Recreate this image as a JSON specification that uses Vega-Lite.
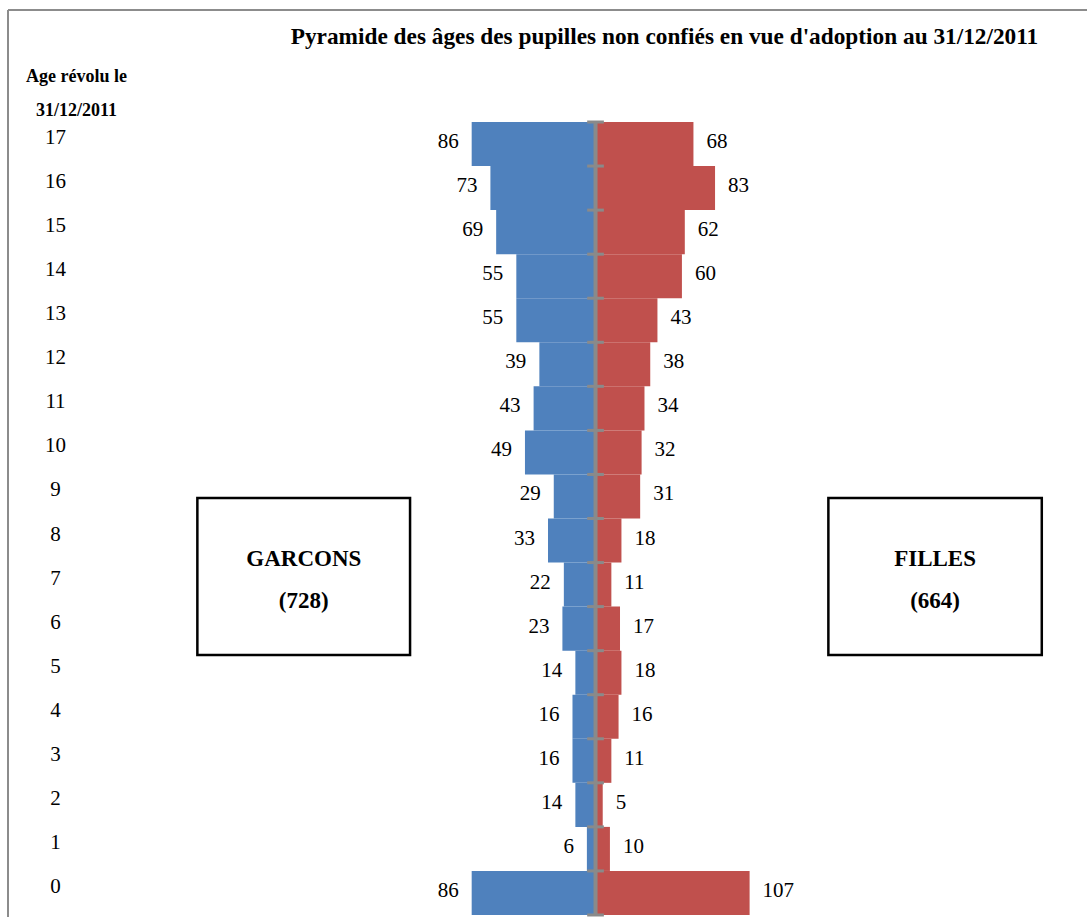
{
  "$schema": "https://vega.github.io/schema/vega-lite/v6.json",
  "autosize": {"type": "none"},
  "padding": {"left": 8, "top": 10, "right": 0, "bottom": 0},
  "width": 1079,
  "height": 907,
  "background": "white",
  "config": {
    "view": {"stroke": "#8c8c8c", "strokeWidth": 2, "strokeDash": [1079, 1986, 907, 0]},
    "font": "Liberation Serif"
  },
  "title": {
    "text": "Pyramide des âges des pupilles non confiés en vue d'adoption au 31/12/2011",
    "font": "Liberation Serif",
    "fontSize": 23.3,
    "fontWeight": "bold",
    "color": "black",
    "anchor": "middle",
    "dx": 117,
    "offset": -57,
    "baseline": "alphabetic"
  },
  "data": {
    "values": [
      {"age": 17, "garcons": 86, "filles": 68},
      {"age": 16, "garcons": 73, "filles": 83},
      {"age": 15, "garcons": 69, "filles": 62},
      {"age": 14, "garcons": 55, "filles": 60},
      {"age": 13, "garcons": 55, "filles": 43},
      {"age": 12, "garcons": 39, "filles": 38},
      {"age": 11, "garcons": 43, "filles": 34},
      {"age": 10, "garcons": 49, "filles": 32},
      {"age": 9, "garcons": 29, "filles": 31},
      {"age": 8, "garcons": 33, "filles": 18},
      {"age": 7, "garcons": 22, "filles": 11},
      {"age": 6, "garcons": 23, "filles": 17},
      {"age": 5, "garcons": 14, "filles": 18},
      {"age": 4, "garcons": 16, "filles": 16},
      {"age": 3, "garcons": 16, "filles": 11},
      {"age": 2, "garcons": 14, "filles": 5},
      {"age": 1, "garcons": 6, "filles": 10},
      {"age": 0, "garcons": 86, "filles": 107}
    ]
  },
  "layer": [
    {
      "encoding": {
        "y": {"field": "age", "type": "ordinal", "sort": "descending",
              "scale": {"paddingInner": 0, "paddingOuter": 0, "range": [112, 905]}, "axis": null},
        "x": {"field": "garcons", "type": "quantitative",
              "scale": {"domain": [-341.3, 408.0], "reverse": true, "nice": false}, "axis": null}
      },
      "layer": [
        {"mark": {"type": "bar", "color": "#4F81BD"}},
        {"mark": {"type": "text", "align": "right", "baseline": "middle", "dx": -13, "dy": -2, "fontSize": 21, "font": "Liberation Serif", "color": "black"},
         "encoding": {"text": {"field": "garcons", "type": "quantitative"}}}
      ]
    },
    {
      "encoding": {
        "y": {"field": "age", "type": "ordinal", "sort": "descending",
              "scale": {"paddingInner": 0, "paddingOuter": 0, "range": [112, 905]},
              "axis": {"orient": "left", "offset": -47, "domain": false, "ticks": false, "tickSize": 0,
                       "labelPadding": 0, "labelAlign": "center", "labelBaseline": "middle", "labelOffset": -6,
                       "labelFont": "Liberation Serif", "labelFontSize": 21, "labelColor": "black",
                       "labelBound": false, "labelOverlap": false, "grid": false,
                       "title": ["Age révolu le", "31/12/2011"], "titleAngle": 0, "titleAlign": "center",
                       "titleBaseline": "alphabetic", "titleX": 21, "titleY": 71,
                       "titleFont": "Liberation Serif", "titleFontSize": 18, "titleFontWeight": "bold",
                       "titleColor": "black", "titleLineHeight": 34}},
        "x": {"field": "filles", "type": "quantitative",
              "scale": {"domain": [-408.0, 341.3], "nice": false}, "axis": null}
      },
      "layer": [
        {"mark": {"type": "bar", "color": "#C0504D"}},
        {"mark": {"type": "text", "align": "left", "baseline": "middle", "dx": 13, "dy": -2, "fontSize": 21, "font": "Liberation Serif", "color": "black"},
         "encoding": {"text": {"field": "filles", "type": "quantitative"}}},
        {"mark": {"type": "rect", "color": "#8a8a8a"},
         "encoding": {"x": {"datum": -1.4}, "x2": {"datum": 1.4}}},
        {"mark": {"type": "rule", "color": "#8a8a8a", "strokeWidth": 3},
         "encoding": {"x": {"datum": -5.8}, "x2": {"datum": 5.8},
                      "y": {"field": "age", "type": "ordinal", "sort": "descending", "bandPosition": 0}}},
        {"transform": [{"filter": "datum.age == 0"}],
         "mark": {"type": "rule", "color": "#8a8a8a", "strokeWidth": 3},
         "encoding": {"x": {"datum": -5.8}, "x2": {"datum": 5.8},
                      "y": {"field": "age", "type": "ordinal", "sort": "descending", "bandPosition": 1}}}
      ]
    },
    {
      "layer": [
        {
          "data": {"values": [{"groupe": "GARCONS", "effectif": "(728)"}]},
          "layer": [
            {"mark": {"type": "rect", "fill": "white", "stroke": "black", "strokeWidth": 2.5},
             "encoding": {
               "x": {"datum": -276.5, "type": "quantitative", "scale": {"domain": [-408.0, 341.3], "nice": false, "zero": false}, "axis": null},
               "x2": {"datum": -128.8},
               "y": {"datum": 8.965, "type": "quantitative", "scale": {"domain": [-0.545, 20.042], "nice": false, "zero": false}, "axis": null},
               "y2": {"datum": 5.403}}},
            {"mark": {"type": "text", "align": "center", "baseline": "middle", "fontSize": 23, "fontWeight": "bold", "font": "Liberation Serif", "color": "black"},
             "encoding": {"x": {"datum": -202.6, "type": "quantitative"}, "y": {"datum": 7.57, "type": "quantitative"}, "text": {"field": "groupe"}}},
            {"mark": {"type": "text", "align": "center", "baseline": "middle", "fontSize": 23, "fontWeight": "bold", "font": "Liberation Serif", "color": "black"},
             "encoding": {"x": {"datum": -202.6, "type": "quantitative"}, "y": {"datum": 6.627, "type": "quantitative"}, "text": {"field": "effectif"}}}
          ]
        },
        {
          "data": {"values": [{"groupe": "FILLES", "effectif": "(664)"}]},
          "layer": [
            {"mark": {"type": "rect", "fill": "white", "stroke": "black", "strokeWidth": 2.5},
             "encoding": {
               "x": {"datum": 161.7, "type": "quantitative"},
               "x2": {"datum": 309.9},
               "y": {"datum": 8.965, "type": "quantitative"},
               "y2": {"datum": 5.403}}},
            {"mark": {"type": "text", "align": "center", "baseline": "middle", "fontSize": 23, "fontWeight": "bold", "font": "Liberation Serif", "color": "black"},
             "encoding": {"x": {"datum": 235.8, "type": "quantitative"}, "y": {"datum": 7.57, "type": "quantitative"}, "text": {"field": "groupe"}}},
            {"mark": {"type": "text", "align": "center", "baseline": "middle", "fontSize": 23, "fontWeight": "bold", "font": "Liberation Serif", "color": "black"},
             "encoding": {"x": {"datum": 235.8, "type": "quantitative"}, "y": {"datum": 6.627, "type": "quantitative"}, "text": {"field": "effectif"}}}
          ]
        }
      ]
    }
  ],
  "resolve": {"scale": {"x": "independent", "y": "independent"}}
}
